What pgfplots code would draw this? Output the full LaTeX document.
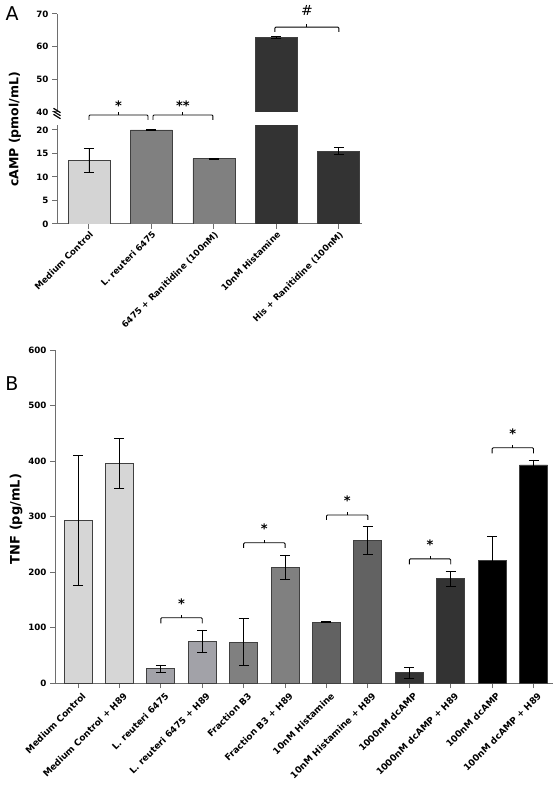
\documentclass[border=0pt]{standalone}
\usepackage{pgfplots}
\pgfplotsset{compat=1.18}
\usepackage{fontspec}
\setmainfont{DejaVu Sans}
\definecolor{gA1}{HTML}{D4D4D4}
\definecolor{gA2}{HTML}{808080}
\definecolor{gA3}{HTML}{333333}
\definecolor{gB1}{HTML}{D6D6D6}
\definecolor{gB2}{HTML}{A2A2A8}
\definecolor{gB3}{HTML}{808080}
\definecolor{gB4}{HTML}{626262}
\definecolor{gB5}{HTML}{333333}
\definecolor{gB6}{HTML}{000000}
\definecolor{axgray}{HTML}{6E6E6E}
\pgfplotsset{
  panel/.style={scale only axis, anchor=south west,
    axis line style={axgray, line width=1pt},
    tick style={axgray, line width=1pt}, tick align=outside, major tick length=5pt,
    ticklabel style={font=\bfseries\fontsize{8.7}{10}\selectfont, text=black},
    /pgf/number format/assume math mode=true,
    ybar, clip mode=individual,
    x tick label style={rotate=45, anchor=north east, inner sep=1pt},
    error bars/y dir=both, error bars/y explicit,
    error bars/error bar style={black, line width=0.8pt},
    error bars/error mark options={rotate=90, black, line width=0.8pt, mark size=5pt}},
  barA/.style={bar shift=0pt, bar width=42pt, draw=black!75, line width=0.8pt},
  barB/.style={bar shift=0pt, bar width=28pt, draw=black!75, line width=0.8pt},
}
\newcommand{\brk}[5]{%
  \draw[black, line width=0.9pt, rounded corners=1pt] (axis cs:#1,#4) -- (axis cs:#1,#3) -- (axis cs:#2,#3) -- (axis cs:#2,#4);
  \draw[black, line width=0.9pt] (axis cs:#5,#3) -- ([yshift=3pt]axis cs:#5,#3);}
\begin{document}
\begin{tikzpicture}
\useasboundingbox (0,0) rectangle (558pt,785pt);
% ---------- Panel A, lower part ----------
\begin{axis}[panel, at={(57pt,561pt)}, width=305pt, height=98.7pt,
  xmin=-0.512, xmax=4.37, ymin=0, ymax=21,
  axis x line*=bottom, axis y line*=left,
  ytick={0,5,10,15,20}, xtick={0,1,2,3,4},
  xticklabels={Medium Control, L. reuteri 6475, 6475 + Ranitidine (100nM), 10nM Histamine, His + Ranitidine (100nM)}]
\addplot[barA, fill=gA1] coordinates {(0,13.6) += (0,2.5) -= (0,2.6)};
\addplot[barA, fill=gA2] coordinates {(1,20.0) +- (0,0.12) (2,13.9) +- (0,0.12)};
\addplot[barA, fill=gA3] coordinates {(3,62.7) +- (0,0.3) (4,15.5) += (0,0.7) -= (0,0.7)};
\brk{0}{0.944}{23.19}{22.13}{0.472}
\node[anchor=base, font=\bfseries\fontsize{13}{13}\selectfont] at (axis cs:0.472,23.19) [yshift=5pt] {*};
\brk{1.024}{1.984}{23.19}{22.13}{1.504}
\node[anchor=base, font=\bfseries\fontsize{13}{13}\selectfont] at (axis cs:1.504,23.19) [yshift=5pt] {**};
\end{axis}
% ---------- Panel A, upper part ----------
\begin{axis}[panel, at={(57pt,673pt)}, width=305pt, height=98pt,
  xmin=-0.512, xmax=4.37, ymin=40, ymax=70,
  axis x line=none, axis y line*=left,
  ytick={40,50,60,70}, xtick=\empty]
\addplot[barA, fill=gA3] coordinates {(3,62.7) +- (0,0.3)};
\brk{2.976}{4.0}{66.0}{64.49}{3.488}
\node[anchor=base, font=\fontsize{14}{14}\selectfont] at (axis cs:3.488,66.0) [yshift=12pt] {\#};
\end{axis}
% axis break marks
\foreach \yy in {668.5,671.5,674.5} {
  \draw[black, line width=1.2pt] (53.5pt,\yy pt+2.2pt) -- (60.5pt,\yy pt-2.2pt);
}
\node[rotate=90, font=\bfseries\fontsize{12.5}{14}\selectfont] at (15pt,655.5pt) {cAMP (pmol/mL)};
\node[font=\fontsize{19}{20}\selectfont] at (12pt,771pt) {A};
% ---------- Panel B ----------
\begin{axis}[panel, at={(55pt,101.7pt)}, width=498pt, height=333.3pt,
  xmin=-0.556, xmax=11.47, ymin=0, ymax=600,
  axis x line*=bottom, axis y line*=left,
  ytick={0,100,200,300,400,500,600}, xtick={0,1,...,11},
  x tick label style={font=\bfseries\fontsize{9}{10}\selectfont, inner sep=1pt, yshift=-4pt, xshift=1pt},
  xticklabels={Medium Control, Medium Control + H89, L. reuteri 6475, L. reuteri 6475 + H89, Fraction B3, Fraction B3 + H89, 10nM Histamine, 10nM Histamine + H89, 1000nM dcAMP, 1000nM dcAMP + H89, 100nM dcAMP, 100nM dcAMP + H89}]
\addplot[barB, fill=gB1] coordinates {(0,293) +- (0,117) (1,396) += (0,45) -= (0,46)};
\addplot[barB, fill=gB2] coordinates {(2,26) += (0,7) -= (0,6) (3,76) += (0,20) -= (0,21)};
\addplot[barB, fill=gB3] coordinates {(4,74) +- (0,42) (5,209) +- (0,22)};
\addplot[barB, fill=gB4] coordinates {(6,110) +- (0,1) (7,257) +- (0,25)};
\addplot[barB, fill=gB5] coordinates {(8,19) += (0,10) -= (0,11) (9,188) += (0,14) -= (0,13)};
\addplot[barB, fill=gB6] coordinates {(10,221) +- (0,44) (11,393) +- (0,9)};
\brk{2}{3}{118}{108}{2.5}
\node[anchor=base, font=\bfseries\fontsize{13}{13}\selectfont] at (axis cs:2.5,118) [yshift=9pt] {*};
\brk{4}{5}{253}{244}{4.5}
\node[anchor=base, font=\bfseries\fontsize{13}{13}\selectfont] at (axis cs:4.5,253) [yshift=9pt] {*};
\brk{6}{7}{303}{294}{6.5}
\node[anchor=base, font=\bfseries\fontsize{13}{13}\selectfont] at (axis cs:6.5,303) [yshift=9pt] {*};
\brk{8}{9}{224}{214}{8.5}
\node[anchor=base, font=\bfseries\fontsize{13}{13}\selectfont] at (axis cs:8.5,224) [yshift=9pt] {*};
\brk{10}{11}{424}{414}{10.5}
\node[anchor=base, font=\bfseries\fontsize{13}{13}\selectfont] at (axis cs:10.5,424) [yshift=9pt] {*};
\end{axis}
\node[rotate=90, font=\bfseries\fontsize{13}{14}\selectfont] at (16pt,266pt) {TNF (pg/mL)};
\node[font=\fontsize{19}{20}\selectfont] at (12pt,401pt) {B};
\end{tikzpicture}
\end{document}
